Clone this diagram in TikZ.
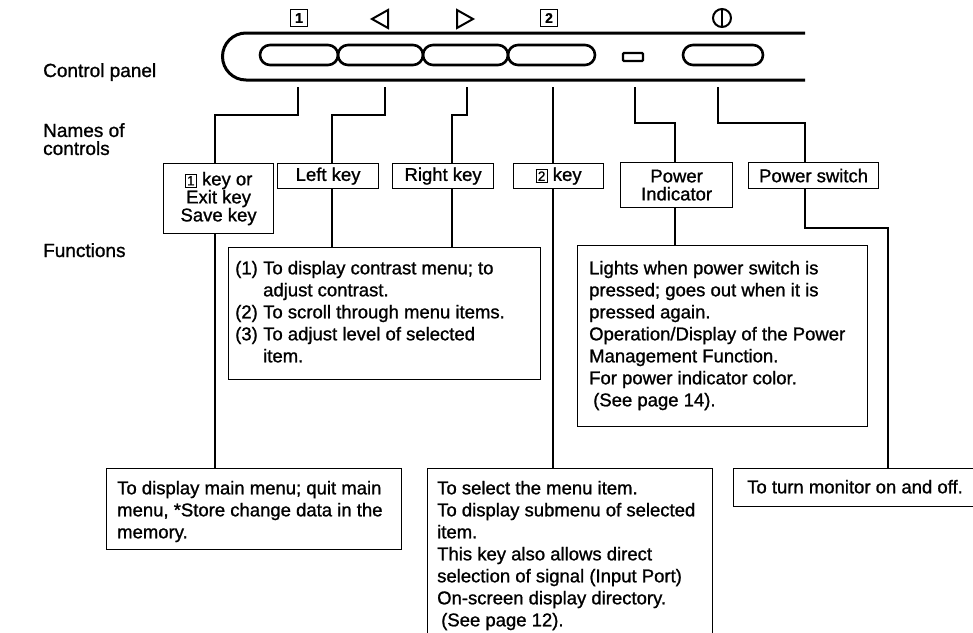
\documentclass[tikz,border=0pt]{standalone}
\usepackage{fontspec}
\setmainfont{Liberation Sans}
\newfontfamily\scanfont{Liberation Sans}[FakeBold=1.1]
\usetikzlibrary{calc}

\newcommand\boxfont{\scanfont\fontsize{18.5}{18}\selectfont}
\newcommand\funfont{\scanfont\fontsize{18.5}{22}\selectfont}
\newcommand\headfont{\scanfont\fontsize{19}{18}\selectfont}
\newcommand\keynum[1]{{\fboxsep=1.2pt\fboxrule=1.1pt\fbox{\fontsize{13.5}{13.5}\selectfont #1}}}

\begin{document}
\begin{tikzpicture}[x=1pt,y=-1pt,
  frame/.style={draw,line width=1.2pt,inner sep=0pt,anchor=north west},
  namebox/.style={draw,line width=1.2pt,inner sep=0pt,anchor=north west,align=center,font=\boxfont},
  txt/.style={anchor=north west,inner sep=0pt,align=left,font=\funfont},
  head/.style={inner sep=0pt,align=left,font=\headfont},
  symbox/.style={draw,line width=1.8pt,minimum size=17pt,inner sep=0pt,font=\scanfont\bfseries\fontsize{14}{14}\selectfont},
  wire/.style={line width=1.2pt},
  key/.style={line width=2.6pt,rounded corners=10pt}]
  \useasboundingbox (0,0) rectangle (973,632);
  \clip (0,0) rectangle (973,632);

  % row titles
  \node[head,anchor=base west] (paneltitle) at (43,77) {Control panel};
  \node[head,anchor=north west] (nametitle) at (43,123) {Names of\\controls};
  \node[head,anchor=base west] (functitle) at (43,257) {Functions};

  % symbols above the panel
  \node[symbox] (sym1) at (299,18) {1};
  \draw[line width=2pt] (388,10) -- (372,19) -- (388,28) -- cycle;
  \draw[line width=2pt] (457,10) -- (473,19) -- (457,28) -- cycle;
  \node[symbox] (sym2) at (549,18) {2};
  \draw[line width=2pt] (722,18) circle[radius=9];
  \draw[line width=2.2pt] (722,9) -- (722,27);

  % the panel
  \draw[line width=3pt,rounded corners=23.5pt] (805,33) -- (222.5,33) -- (222.5,80) -- (805,80);
  \draw[key] (260,45) rectangle (338,65);
  \draw[key] (338,45) rectangle (423,65);
  \draw[key] (423,45) rectangle (508,65);
  \draw[key] (508,45) rectangle (595,65);
  \draw[line width=2.4pt,rounded corners=1pt] (623,53) rectangle (643,61);
  \draw[key] (683,45) rectangle (763,65);

  % names of controls
  \node[namebox,minimum width=110pt,minimum height=70pt] (exitbox) at (163,163) {\keynum{1} key or\\Exit key\\Save key};
  \node[namebox,minimum width=101pt,minimum height=25pt] (leftbox) at (277,163) {Left key};
  \node[namebox,minimum width=101pt,minimum height=25pt] (rightbox) at (392,163) {Right key};
  \node[namebox,minimum width=90pt,minimum height=25pt] (twobox) at (513,163) {\keynum{2} key};
  \node[namebox,minimum width=112pt,minimum height=45pt] (indbox) at (620,162) {Power\\Indicator};
  \node[namebox,minimum width=130pt,minimum height=26pt] (swbox) at (748,162) {Power switch};

  % functions
  \node[frame,minimum width=312pt,minimum height=132pt] (lrfun) at (228,247) {};
  \node[txt] (lrtext) at ([shift={(7,13.7)}]lrfun.north west)
    {\makebox[28pt][l]{(1)}To display contrast menu; to\\
     \hspace*{28pt}adjust contrast.\\
     \makebox[28pt][l]{(2)}To scroll through menu items.\\
     \makebox[28pt][l]{(3)}To adjust level of selected\\
     \hspace*{28pt}item.};
  \node[frame,minimum width=290pt,minimum height=181pt] (indfun) at (577,245) {};
  \node[txt] (indtext) at ([shift={(12,15.7)}]indfun.north west)
    {Lights when power switch is\\
     pressed; goes out when it is\\
     pressed again.\\
     Operation/Display of the Power\\
     Management Function.\\
     For power indicator color.\\
     \hspace*{4pt}(See page 14).};
  \node[frame,minimum width=295pt,minimum height=81pt] (exitfun) at (106,468) {};
  \node[txt] (exittext) at ([shift={(11,12.7)}]exitfun.north west)
    {To display main menu; quit main\\
     menu, *Store change data in the\\
     memory.};
  \node[frame,minimum width=285pt,minimum height=170pt] (twofun) at (427,468) {};
  \node[txt] (twotext) at ([shift={(10,12.7)}]twofun.north west)
    {To select the menu item.\\
     To display submenu of selected\\
     item.\\
     This key also allows direct\\
     selection of signal (Input Port)\\
     On-screen display directory.\\
     \hspace*{4pt}(See page 12).};
  \node[frame,minimum width=250pt,minimum height=38pt] (swfun) at (733,468) {};
  \node[txt] (swtext) at ([shift={(14,11.7)}]swfun.north west) {To turn monitor on and off.};

  % connectors
  \coordinate (k1) at (298,87);
  \coordinate (k2) at (385,87);
  \coordinate (k3) at (467,87);
  \coordinate (k4) at (553,87);
  \coordinate (k5) at (635,87);
  \coordinate (k6) at (718,87);
  \coordinate (b1) at (215,115);
  \coordinate (b2) at (332,115);
  \coordinate (b3) at (452,115);
  \coordinate (b5) at (675,123);
  \coordinate (b6) at (805,123);
  \coordinate (b7) at (888,228);

  \draw[wire] (k1) |- (b1) -- (b1 |- exitbox.north);
  \draw[wire] (b1 |- exitbox.south) -- (b1 |- exitfun.north);
  \draw[wire] (k2) |- (b2) -- (b2 |- leftbox.north);
  \draw[wire] (b2 |- leftbox.south) -- (b2 |- lrfun.north);
  \draw[wire] (k3) |- (b3) -- (b3 |- rightbox.north);
  \draw[wire] (b3 |- rightbox.south) -- (b3 |- lrfun.north);
  \draw[wire] (k4) -- (k4 |- twobox.north);
  \draw[wire] (k4 |- twobox.south) -- (k4 |- twofun.north);
  \draw[wire] (k5) |- (b5) -- (b5 |- indbox.north);
  \draw[wire] (b5 |- indbox.south) -- (b5 |- indfun.north);
  \draw[wire] (k6) |- (b6) -- (b6 |- swbox.north);
  \draw[wire] (b6 |- swbox.south) |- (b7) -- (b7 |- swfun.north);
\end{tikzpicture}
\end{document}
